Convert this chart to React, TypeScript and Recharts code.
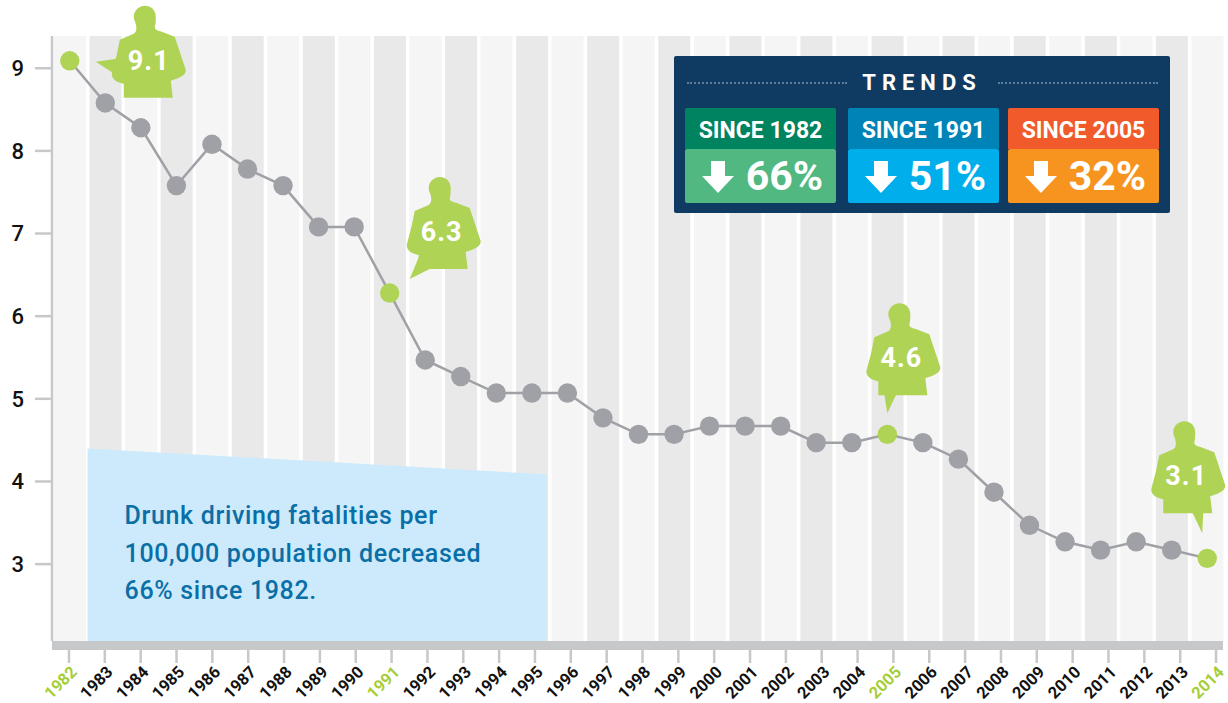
import { Bar, Cell, ComposedChart, Line, ReferenceArea, XAxis, YAxis } from "recharts"

const years = [
  1982, 1983, 1984, 1985, 1986, 1987, 1988, 1989, 1990, 1991, 1992, 1993, 1994, 1995, 1996, 1997, 1998,
  1999, 2000, 2001, 2002, 2003, 2004, 2005, 2006, 2007, 2008, 2009, 2010, 2011, 2012, 2013, 2014,
]
const rates = [
  9.09, 8.58, 8.28, 7.58, 8.08, 7.78, 7.58, 7.08, 7.08, 6.28, 5.47, 5.27, 5.07, 5.07, 5.07, 4.77, 4.57,
  4.57, 4.67, 4.67, 4.67, 4.47, 4.47, 4.57, 4.47, 4.27, 3.87, 3.47, 3.27, 3.17, 3.27, 3.17, 3.07,
]
const yTicks = [3, 4, 5, 6, 7, 8, 9]
const highlightYears = [1982, 1991, 2005, 2014]
const calloutLabels = ["9.1", "6.3", "4.6", "3.1"]
const trendTitles = ["SINCE 1982", "SINCE 1991", "SINCE 2005"]
const trendDrops = ["66%", "51%", "32%"]
const noteLines = ["Drunk driving fatalities per", "100,000 population decreased", "66% since 1982."]

const Y_MIN = 2.07
const Y_MAX = 9.39

const FONT = "Roboto, sans-serif"
const GREEN = "#afd355"
const GREY = "#a0a1a6"
const AXIS = "#c7c8ca"
const TREND_COLORS = [
  ["#00835f", "#50b880"],
  ["#0083b7", "#00aeeb"],
  ["#f15a2b", "#f7941f"],
]
const TREND_LEFT = [11, 174, 334]

// where each silhouette sits relative to its dot, and the speech pointer
const CALLOUTS = [
  { dx: 78, dy: -1, labelX: 1, pointer: "M-31 -1 L-52 2 L-35 13 Z" },
  { dx: 53, dy: -62, labelX: -1, pointer: "M-23 24 L-33 48 L-13 38 Z" },
  { dx: 15, dy: -77, labelX: -1, pointer: "M-18 37 L-15 56 L-6 37 Z" },
  { dx: -20, dy: -83, labelX: -1, pointer: "M5 37 L15 58 L16 37 Z" },
]

const PERSON =
  "M-3 -54 C4 -54 8 -49 8 -43 C8 -39 8 -36 7 -33 C7 -30 10 -29 14 -28 L27 -23 L38 10 C38 14 36 17 23 21 " +
  "L25 38 L-24 38 L-24 24 C-30 23 -36 20 -36 14 L-31 -5 L-28 -20 L-14 -26 C-11 -28 -11 -32 -12 -36 " +
  "C-13 -38 -14 -41 -14 -43 C-14 -49 -9 -54 -3 -54 Z"

const data = years.map((year, i) => ({ year: String(year), rate: rates[i], band: Y_MAX }))

function RateDot({ cx, cy, payload }: any) {
  const idx = highlightYears.indexOf(Number(payload.year))
  if (idx < 0) return <circle cx={cx} cy={cy} r={9.7} fill={GREY} />
  const c = CALLOUTS[idx]
  return (
    <g>
      <circle cx={cx} cy={cy} r={9.7} fill={GREEN} />
      <g transform={`translate(${cx + c.dx} ${cy + c.dy})`}>
        <path d={PERSON} fill={GREEN} />
        <path d={c.pointer} fill={GREEN} />
        <text x={c.labelX} y={10} textAnchor="middle" fill="#fff" fontFamily={FONT} fontWeight={700} fontSize={27} letterSpacing={1}>
          {calloutLabels[idx]}
        </text>
      </g>
    </g>
  )
}

function YearTick({ x, y, payload, index }: any) {
  // the printed ticks run a little wider than the dots
  const tx = x + index * 0.3 - 0.8
  const green = highlightYears.includes(Number(payload.value))
  return (
    <g>
      <line x1={tx} x2={tx} y1={y + 9} y2={y + 22} stroke={AXIS} strokeWidth={2.5} />
      <text
        transform={`translate(${tx + 9} ${y + 32}) rotate(-45)`}
        textAnchor="end"
        fill={green ? "#a6ce39" : "#111"}
        fontFamily={FONT}
        fontWeight={700}
        fontSize={16.5}
      >
        {payload.value}
      </text>
    </g>
  )
}

function NoteShape({ x, y, width, height }: any) {
  const right = x + width - 3
  return (
    <g>
      <path d={`M${x} ${y} L${right} ${y + 26} L${right} ${y + height} L${x} ${y + height} Z`} fill="#cceafb" />
      {noteLines.map((line, i) => (
        <text key={line} x={x + 37} y={y + 76 + i * 37.5} fill="#0a6fa6" fontFamily={FONT} fontWeight={500} fontSize={25} letterSpacing={0.65}>
          {line}
        </text>
      ))}
    </g>
  )
}

function Trends() {
  return (
    <div style={{ position: "absolute", left: 674, top: 56, width: 496, height: 157, background: "#0f3a61", borderRadius: 2, fontFamily: FONT, color: "#fff" }}>
      <div style={{ position: "absolute", left: 13, top: 26, width: 160, borderTop: "2px dotted #5d7d99" }} />
      <div style={{ position: "absolute", left: 324, top: 26, width: 160, borderTop: "2px dotted #5d7d99" }} />
      <div style={{ position: "absolute", left: 0, width: 496, top: 13, textAlign: "center", fontSize: 22, lineHeight: "28px", fontWeight: 700, letterSpacing: 6 }}>TRENDS</div>
      {trendTitles.map((title, i) => (
        <div key={title} style={{ position: "absolute", left: TREND_LEFT[i], top: 52, width: 151 }}>
          <div style={{ height: 41, background: TREND_COLORS[i][0], borderRadius: "2px 2px 0 0", textAlign: "center", fontSize: 23, lineHeight: "45px", fontWeight: 700 }}>{title}</div>
          <div style={{ position: "relative", height: 54, background: TREND_COLORS[i][1], borderRadius: 2, fontSize: 41, lineHeight: "54px", fontWeight: 700 }}>
            <svg width={32} height={32} style={{ position: "absolute", left: 17, top: 12 }}>
              <path d="M9 0 H23 V15 H32 L16 32 L0 15 H9 Z" fill="#fff" />
            </svg>
            <span style={{ position: "absolute", right: 13, top: 0 }}>{trendDrops[i]}</span>
          </div>
        </div>
      ))}
    </div>
  )
}

export default function App() {
  return (
    <div style={{ position: "absolute", left: 0, top: 0, width: 1228, height: 703, background: "#fff" }}>
      <ComposedChart width={1228} height={703} data={data} margin={{ top: 36, right: 3, bottom: 0, left: 0 }} barSize={32}>
        <XAxis
          dataKey="year"
          height={62}
          interval={0}
          tick={<YearTick />}
          tickLine={false}
          tickSize={0}
          tickMargin={0}
          axisLine={{ stroke: AXIS, strokeWidth: 9, transform: "translate(0 4.5)", strokeDasharray: "1171 100" }}
        />
        <YAxis
          type="number"
          width={52}
          domain={[Y_MIN, Y_MAX]}
          ticks={yTicks}
          tickSize={17}
          tickMargin={11}
          tick={{ fontSize: 22, fill: "#111", fontFamily: FONT, fontWeight: 500 }}
          tickLine={{ stroke: AXIS, strokeWidth: 2.5 }}
          axisLine={{ stroke: AXIS, strokeWidth: 2.5 }}
        />
        <Bar dataKey="band" isAnimationActive={false}>
          {data.map((d, i) => (
            <Cell key={d.year} fill={i % 2 ? "#e9e9ea" : "#f5f5f5"} />
          ))}
        </Bar>
        <ReferenceArea x1="1983" x2="1995" y1={Y_MIN} y2={4.4} shape={<NoteShape />} ifOverflow="visible" zIndex={350} />
        <Line dataKey="rate" stroke={GREY} strokeWidth={2.5} dot={<RateDot />} activeDot={false} isAnimationActive={false} />
      </ComposedChart>
      <Trends />
    </div>
  )
}
